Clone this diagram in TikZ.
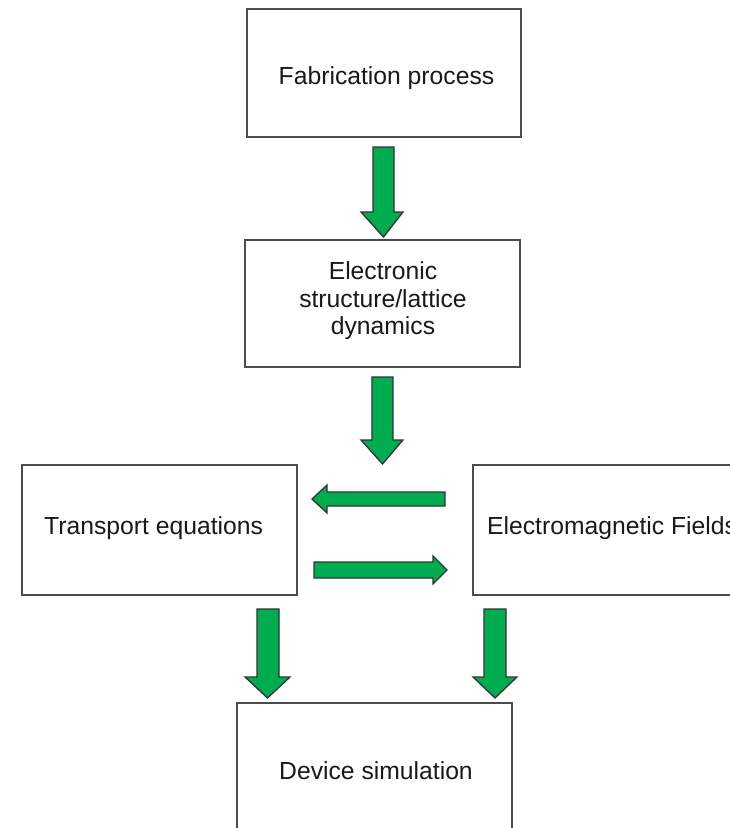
\documentclass[tikz,border=0pt]{standalone}
\usepackage{fontspec}
\setmainfont{Liberation Sans}
\begin{document}
\begin{tikzpicture}[x=1pt,y=-1pt,
  box/.style={draw=black!70,line width=1.6pt,fill=white,inner sep=0pt},
  txt/.style={font=\fontsize{24.7}{27.6}\selectfont,align=center,inner sep=0pt,text=black!90},
  garrow/.style={draw=black!80,line width=1.3pt,line join=miter,fill={rgb,255:red,0;green,172;blue,80}}]
\useasboundingbox (0,0) rectangle (730,828);
\clip (0,0) rectangle (730,828);
% boxes
\node[box,minimum width=274pt,minimum height=128pt] (fab) at (384,73) {};
\node[box,minimum width=275pt,minimum height=127pt] (ele) at (382.5,303.5) {};
\node[box,minimum width=275pt,minimum height=130pt] (tra) at (159.5,530) {};
\node[box,minimum width=275pt,minimum height=130pt] (emf) at (610.5,530) {};
\node[box,minimum width=275pt,minimum height=130pt] (dev) at (374.5,768) {};
% texts
\node[txt] (t1) at (386.5,78) {Fabrication process};
\node[txt] (t2) at (383,301) {Electronic\\structure/lattice\\dynamics};
\node[txt,anchor=west] (t3) at (44,528) {Transport equations};
\node[txt,anchor=west] (t4) at (487,528) {Electromagnetic Fields};
\node[txt] (t5) at (376,771) {Device simulation};
% block arrows
\draw[garrow] (373,147) -- (394,147) -- (394,212) -- (403,212) -- (383.5,237) -- (361,212) -- (373,212) -- cycle;
\draw[garrow] (372,377) -- (393,377) -- (393,440) -- (403,440) -- (382.5,464) -- (361,440) -- (372,440) -- cycle;
\draw[garrow] (445,492) -- (445,506) -- (327,506) -- (327,513) -- (312,499) -- (327,485) -- (327,492) -- cycle;
\draw[garrow] (314,562) -- (433,562) -- (433,556) -- (447,570) -- (433,584) -- (433,578) -- (314,578) -- cycle;
\draw[garrow] (257,609) -- (279,609) -- (279,677) -- (290,677) -- (267.5,698) -- (245,677) -- (257,677) -- cycle;
\draw[garrow] (484,609) -- (506,609) -- (506,677) -- (517,677) -- (495,698) -- (473,677) -- (484,677) -- cycle;
\end{tikzpicture}
\end{document}
